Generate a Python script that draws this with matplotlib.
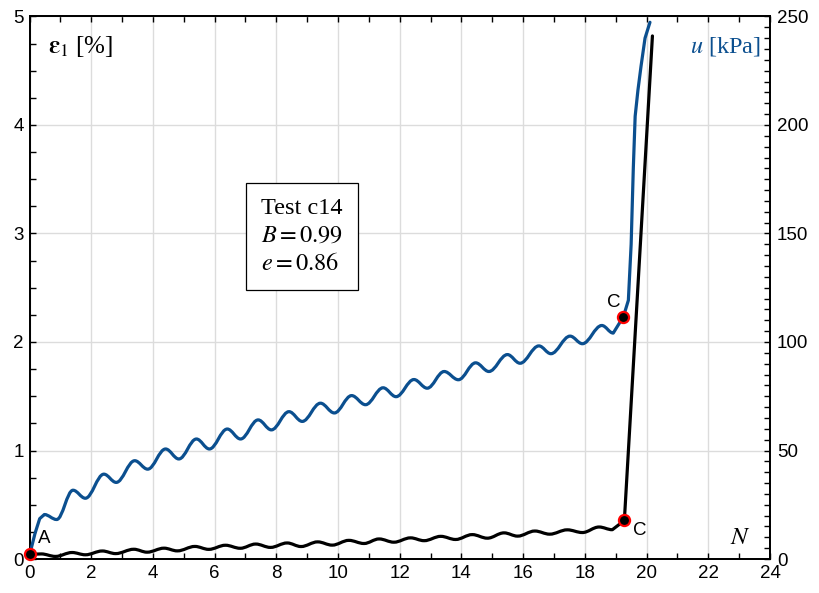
import numpy as np
import matplotlib.pyplot as plt
from matplotlib.path import Path
from matplotlib.patches import PathPatch
from matplotlib.ticker import MultipleLocator

plt.rcParams['font.family'] = ['Liberation Sans', 'DejaVu Sans']
plt.rcParams['mathtext.fontset'] = 'stix'

BLUE = '#0b4f8f'
SERIF = ['Liberation Serif', 'DejaVu Serif']

# pore pressure u [kPa] vs number of cycles N
u_lead_N = [0.01, 0.18, 0.33]
u_lead = [2.3, 11.9, 18.6]
u_wave_N = [0.48, 0.88, 1.41, 1.81, 2.41, 2.81, 3.41, 3.83, 4.41, 4.84,
            5.41, 5.83, 6.41, 6.84, 7.41, 7.84, 8.41, 8.84, 9.43, 9.88,
            10.44, 10.89, 11.46, 11.88, 12.46, 12.89, 13.44, 13.90, 14.46, 14.89,
            15.49, 15.90, 16.51, 16.90, 17.52, 17.92, 18.55, 18.92]
u_wave = [20.5, 18.2, 31.7, 28.0, 39.1, 35.3, 45.3, 41.4, 50.7, 46.1,
          55.3, 50.7, 59.9, 55.3, 64.1, 59.5, 67.9, 63.4, 71.8, 67.3,
          75.3, 71.1, 78.9, 74.8, 82.7, 78.7, 86.4, 82.6, 90.4, 86.4,
          94.2, 90.2, 98.2, 94.6, 102.7, 99.2, 107.6, 104.1]
u_tail_N = [19.25, 19.41, 19.50, 19.57, 19.63, 19.72, 19.82, 19.95, 20.11]
u_tail = [111.7, 119.2, 145.0, 180.0, 204.0, 216.0, 227.0, 240.0, 247.3]

# axial strain eps1 [%] vs N
e_lead_N = [0.01]
e_lead = [0.043]
e_wave_N = [0.38, 0.84, 1.38, 1.81, 2.36, 2.79, 3.38, 3.81, 4.36, 4.79,
            5.36, 5.81, 6.35, 6.83, 7.33, 7.81, 8.35, 8.80, 9.34, 9.81,
            10.35, 10.84, 11.33, 11.81, 12.35, 12.79, 13.33, 13.81, 14.35, 14.84,
            15.38, 15.82, 16.38, 16.86, 17.43, 17.92, 18.46, 18.89]
e_wave = [0.047, 0.024, 0.060, 0.039, 0.074, 0.050, 0.090, 0.063, 0.100, 0.075,
          0.116, 0.089, 0.127, 0.099, 0.138, 0.107, 0.148, 0.115, 0.158, 0.128,
          0.172, 0.143, 0.185, 0.155, 0.195, 0.169, 0.209, 0.180, 0.225, 0.192,
          0.241, 0.211, 0.258, 0.229, 0.269, 0.244, 0.295, 0.270]
e_tail_N = [19.28, 20.19]
e_tail = [0.355, 4.82]

# marked states A and C
A_N, A_e = 0.01, 0.043
C_u_N, C_u = 19.25, 111.7
C_e_N, C_e = 19.28, 0.355

K = 0.3642  # bezier handle for a half-cosine between extrema


def cycle_path(lead_x, lead_y, wave_x, wave_y, tail_x, tail_y):
    verts = [(lead_x[0], lead_y[0])]
    codes = [Path.MOVETO]
    for x, y in list(zip(lead_x, lead_y))[1:] + [(wave_x[0], wave_y[0])]:
        verts.append((x, y))
        codes.append(Path.LINETO)
    for i in range(1, len(wave_x)):
        x0, y0, x1, y1 = wave_x[i - 1], wave_y[i - 1], wave_x[i], wave_y[i]
        dx = x1 - x0
        verts += [(x0 + K * dx, y0), (x1 - K * dx, y1), (x1, y1)]
        codes += [Path.CURVE4] * 3
    for x, y in zip(tail_x, tail_y):
        verts.append((x, y))
        codes.append(Path.LINETO)
    return Path(verts, codes)


fig = plt.figure(figsize=(8.2, 5.93), dpi=100)
ax = fig.add_axes([0.036, 0.0573, 0.903, 0.915])
ax2 = ax.twinx()

ax.set_xlim(0, 24)
ax.set_ylim(0, 5)
ax2.set_ylim(0, 250)
ax.xaxis.set_major_locator(MultipleLocator(2))
ax.xaxis.set_minor_locator(MultipleLocator(1))
ax.yaxis.set_major_locator(MultipleLocator(1))
ax.yaxis.set_minor_locator(MultipleLocator(0.25))
ax2.yaxis.set_major_locator(MultipleLocator(50))
ax2.yaxis.set_minor_locator(MultipleLocator(5))

ax.grid(True, which='major', color='#dcdcdc', lw=1.0)
ax.set_axisbelow(True)
ax.tick_params(which='both', direction='in', top=True, right=False,
               length=4, width=1.0, labelsize=13.5, pad=4)
ax2.tick_params(which='both', direction='in', right=True,
                length=4, width=1.0, labelsize=13.5, pad=5)
for a in (ax, ax2):
    for s in a.spines.values():
        s.set_linewidth(1.3)

ax.add_patch(PathPatch(cycle_path(e_lead_N, e_lead, e_wave_N, e_wave, e_tail_N, e_tail),
                       fill=False, edgecolor='black', lw=2.3, capstyle='round',
                       joinstyle='round', zorder=3))
ax2.add_patch(PathPatch(cycle_path(u_lead_N, u_lead, u_wave_N, u_wave, u_tail_N, u_tail),
                        fill=False, edgecolor=BLUE, lw=2.3, capstyle='round',
                        joinstyle='round', zorder=3))

dot = dict(marker='o', ms=8, mfc='black', mec='red', mew=1.6, clip_on=False, zorder=5)
ax2.plot([A_N], [A_e * 50], **dot)
ax.plot([C_e_N], [C_e], **dot)
ax2.plot([C_u_N], [C_u], **dot)

ax.text(0.28, 0.19, 'A', fontsize=13.5, ha='left', va='center')
ax2.text(18.95, 118, 'C', fontsize=13.5, ha='center', va='center')
ax.text(19.79, 0.26, 'C', fontsize=13.5, ha='center', va='center')
ax.text(23.03, 0.2, '$N$', fontsize=18, ha='center', va='center')

ax.text(0.6, 4.72, r'$\boldsymbol{\varepsilon}_1$ [%]', fontsize=18, family=SERIF,
        ha='left', va='center')
ax2.text(23.7, 236, r'$u$ [kPa]', fontsize=17.5, family=SERIF, color=BLUE,
         ha='right', va='center')

ax2.text(8.83, 148.5, 'Test c14\n$B=0.99$\n$e=0.86$', fontsize=17.5, family=SERIF,
         ha='center', va='center', multialignment='left', linespacing=1.4,
         bbox=dict(boxstyle='square,pad=0.62', fc='white', ec='black', lw=0.9),
         zorder=6)

fig.savefig('out.png', dpi=100)
